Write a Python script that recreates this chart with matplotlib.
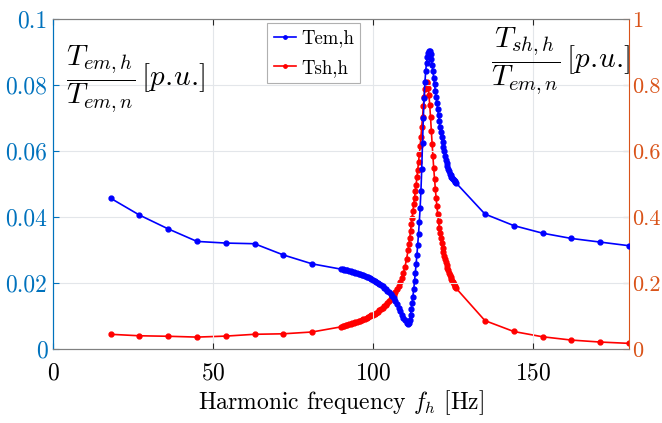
import matplotlib
matplotlib.use("Agg")
import matplotlib.pyplot as plt

plt.rcParams['font.family'] = 'serif'
plt.rcParams['font.serif'] = ['cmr10']
plt.rcParams['mathtext.fontset'] = 'cm'
plt.rcParams['axes.formatter.use_mathtext'] = True

# harmonic points (every 9 Hz) below and above the sweep
f_low = [18, 27, 36, 45, 54, 63, 72, 81]
tem_low = [0.0457, 0.0406, 0.0364, 0.0326, 0.0321, 0.0319, 0.0285, 0.0258]
tsh_low = [0.0445, 0.0400, 0.0385, 0.0360, 0.0390, 0.0445, 0.0460, 0.0515]

f_high = [135, 144, 153, 162, 171, 180]
tem_high = [0.0409, 0.0374, 0.0351, 0.0335, 0.0324, 0.0313]
tsh_high = [0.086, 0.053, 0.037, 0.027, 0.021, 0.017]

# dense sweep around the resonance
f_sweep = [90, 90.5, 91, 91.5, 92, 92.5, 93, 93.5, 94, 94.5, 95, 95.5,
           96, 96.5, 97, 97.5, 98, 98.5, 99, 99.5, 100, 100.5, 101, 101.5,
           102, 102.5, 103, 103.5, 104, 104.5, 105, 105.5, 106, 106.5,
           107, 107.5, 108, 108.5, 109, 109.5, 110, 110.5,
           111, 111.25, 111.5, 111.75, 112, 112.25, 112.5, 112.75,
           113, 113.25, 113.5, 113.75, 114, 114.25, 114.5, 114.75,
           115, 115.25, 115.5, 115.75, 116, 116.25, 116.5, 116.75,
           117, 117.25, 117.5, 117.75, 118, 118.25, 118.5, 118.75,
           119, 119.25, 119.5, 119.75, 120, 120.25, 120.5, 120.75,
           121, 121.25, 121.5, 121.75, 122, 122.25, 122.5, 122.75,
           123, 123.25, 123.5, 123.75, 124, 124.25, 124.5, 124.75,
           125, 125.25, 125.5, 125.75, 126]
tem_sweep = [0.0242, 0.0241, 0.0240, 0.0239, 0.0238, 0.0237, 0.0235, 0.0234,
             0.0232, 0.0231, 0.0229, 0.0228, 0.0226, 0.0225, 0.0223, 0.0221,
             0.0219, 0.0217, 0.0215, 0.0213, 0.0210, 0.0207, 0.0204, 0.0201,
             0.0197, 0.0194, 0.0190, 0.0186, 0.0182, 0.0177, 0.0172, 0.0166,
             0.0160, 0.0153, 0.0145, 0.0135, 0.0125, 0.0114, 0.0104, 0.0095,
             0.0087, 0.0080,
             0.0077, 0.0079, 0.0088, 0.0103, 0.0120, 0.0139, 0.0159, 0.0181,
             0.0205, 0.0231, 0.0258, 0.0286, 0.0316, 0.0349, 0.0386, 0.0428,
             0.0478, 0.0545, 0.0625, 0.0700, 0.0760, 0.0808, 0.0843, 0.0868,
             0.0886, 0.0898, 0.0904, 0.0903, 0.0894, 0.0880, 0.0862, 0.0842,
             0.0822, 0.0802, 0.0783, 0.0765, 0.0746, 0.0727, 0.0708, 0.0690,
             0.0673, 0.0657, 0.0641, 0.0626, 0.0612, 0.0599, 0.0586, 0.0574,
             0.0563, 0.0554, 0.0545, 0.0538, 0.0531, 0.0526, 0.0521, 0.0517,
             0.0514, 0.0511, 0.0508, 0.0505, 0.0503]
tsh_sweep = [0.067, 0.0685, 0.070, 0.0715, 0.073, 0.0745, 0.076, 0.0775,
             0.079, 0.0805, 0.082, 0.084, 0.086, 0.088, 0.090, 0.092,
             0.094, 0.0965, 0.099, 0.1015, 0.104, 0.107, 0.110, 0.1135,
             0.117, 0.121, 0.125, 0.1295, 0.134, 0.139, 0.145, 0.151,
             0.157, 0.164, 0.172, 0.181, 0.190, 0.202, 0.215, 0.230,
             0.248, 0.272,
             0.300, 0.318, 0.337, 0.357, 0.378, 0.398, 0.418, 0.438,
             0.458, 0.478, 0.498, 0.520, 0.543, 0.566, 0.590, 0.615,
             0.643, 0.672, 0.702, 0.735, 0.765, 0.788, 0.802, 0.809,
             0.806, 0.792, 0.770, 0.740, 0.702, 0.662, 0.622, 0.584,
             0.548, 0.516, 0.486, 0.458, 0.432, 0.408, 0.387, 0.368,
             0.350, 0.335, 0.320, 0.307, 0.294, 0.283, 0.272, 0.263,
             0.254, 0.246, 0.238, 0.231, 0.224, 0.218, 0.212, 0.207,
             0.202, 0.197, 0.192, 0.188, 0.184]

freq = f_low + f_sweep + f_high
tem_h = tem_low + tem_sweep + tem_high
tsh_h = tsh_low + tsh_sweep + tsh_high

left_col = '#0072BD'
right_col = '#D95319'

fig = plt.figure(figsize=(6.62, 4.23), dpi=100)
ax = fig.add_axes([0.080, 0.175, 0.870, 0.780])
ax2 = ax.twinx()

l1, = ax.plot(freq, tem_h, color='blue', marker='.', markersize=7, lw=1.2, label='Tem,h')
l2, = ax2.plot(freq, tsh_h, color='red', marker='.', markersize=7, lw=1.2, label='Tsh,h')
ax.set_zorder(ax2.get_zorder() + 1)
ax.patch.set_visible(False)

ax.set_xlim(0, 180)
ax.set_ylim(0, 0.1)
ax2.set_ylim(0, 1)
ax.set_xticks([0, 50, 100, 150])
ax.set_yticks([0, 0.02, 0.04, 0.06, 0.08, 0.1])
ax.set_yticklabels(['0', '0.02', '0.04', '0.06', '0.08', '0.1'])
ax2.set_yticks([0, 0.2, 0.4, 0.6, 0.8, 1])
ax2.set_yticklabels(['0', '0.2', '0.4', '0.6', '0.8', '1'])

ax.grid(True, color='#e3e6ea', lw=0.8)
ax.tick_params(axis='x', direction='in', length=4, labelsize=17, pad=10, color='#262626', top=True)
ax.tick_params(axis='y', direction='in', length=4, labelsize=17, pad=4, colors=left_col)
ax2.tick_params(axis='y', direction='in', length=4, labelsize=16, pad=2, colors=right_col)

for a in (ax, ax2):
    a.spines['top'].set_color('#808080')
    a.spines['bottom'].set_color('#808080')
ax2.spines['left'].set_color(left_col)
ax2.spines['right'].set_color(right_col)
ax.spines['left'].set_color(left_col)
ax.spines['right'].set_visible(False)

ax.set_xlabel('Harmonic frequency $f_h$ [Hz]', fontsize=17, labelpad=2)

fig.text(0.100, 0.814, r'$\dfrac{T_{em,h}}{T_{em,n}}\,[p.\!u.\!]$', fontsize=21, va='center', ha='left')
fig.text(0.742, 0.856, r'$\dfrac{T_{sh,h}}{T_{em,n}}\,[p.\!u.\!]$', fontsize=21, va='center', ha='left')

leg = ax.legend([l1, l2], ['Tem,h', 'Tsh,h'], loc='upper left', bbox_to_anchor=(0.372, 0.988),
                borderaxespad=0, fontsize=13.5, fancybox=False, framealpha=1,
                edgecolor='#b0b0b0', handlelength=1.2, handletextpad=0.25,
                borderpad=0.35, labelspacing=0.6, markerscale=0.7)
leg.get_frame().set_linewidth(0.8)

fig.savefig('out.png', dpi=100)
